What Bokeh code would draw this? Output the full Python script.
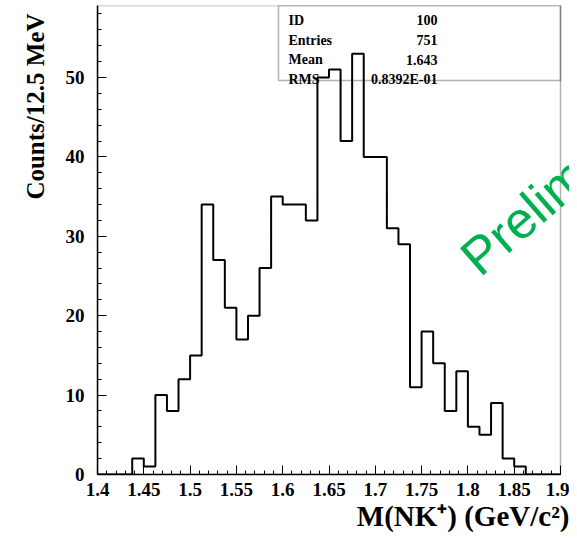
import numpy as np
from bokeh.plotting import figure
from bokeh.models import Label, BoxAnnotation, SingleIntervalTicker, Range1d, Title
from bokeh.embed import file_html
from bokeh.resources import INLINE

# ---- data ----
bin_lo = 1.4
bin_width = 0.0125
counts = [0, 0, 0, 2, 1, 10, 8, 12, 15, 34, 27, 21, 17, 20, 26, 35, 34, 34, 32,
          50, 51, 42, 53, 40, 40, 31, 29, 11, 18, 14, 8, 13, 6, 5, 9, 2, 1, 0, 0, 0]
stat_names = ["ID", "Entries", "Mean", "RMS"]
stat_values = ["100", "751", "1.643", "0.8392E-01"]
x_label = "M(NK\u207a) (GeV/c\u00b2)"
y_label = "Counts/12.5 MeV"
watermark = "Preliminary"

edges = bin_lo + bin_width * np.arange(len(counts) + 1)
step_y = counts + [counts[-1]]

W, H = 569, 532
fl, fr, ft, fb = 97, 560, 5, 474        # axes box in px
x_lo, x_hi = 1.4, 1.9
px_per_x = (fr - fl) / (x_hi - x_lo)
px_per_y = 7.94
y_end = (fb - ft) / px_per_y
x_end = x_hi + (W - fr) / px_per_x        # frame extends to right edge

p = figure(width=W, height=H, output_backend="svg", toolbar_location=None,
           x_range=Range1d(x_lo, x_end), y_range=Range1d(0, y_end),
           min_border_left=fl, min_border_right=0,
           min_border_top=ft, min_border_bottom=H - fb)
p.xgrid.visible = False
p.ygrid.visible = False
p.background_fill_color = "white"
p.border_fill_color = "white"
p.outline_line_color = None

def dx(px):
    return x_lo + (px - fl) / px_per_x

def dy(py):
    return (fb - py) / px_per_y

# axes box
p.add_layout(BoxAnnotation(left=x_lo, right=x_hi, bottom=0, top=y_end,
                           fill_alpha=0, line_color="black", line_width=1.5))

p.step(x=edges, y=step_y, mode="after", line_color="black", line_width=2)

for ax in (p.xaxis[0], p.yaxis[0]):
    ax.axis_line_width = 1.5
    ax.major_tick_in = 9
    ax.major_tick_out = 0
    ax.minor_tick_in = 4
    ax.minor_tick_out = 0
    ax.major_tick_line_width = 1
    ax.minor_tick_line_width = 1
    ax.major_label_text_font = "Liberation Serif"
    ax.major_label_text_font_style = "bold"
    ax.major_label_text_font_size = "19px"
    ax.major_label_text_color = "black"

p.xaxis.bounds = (x_lo, x_hi + 1e-9)
p.xaxis.ticker = SingleIntervalTicker(interval=0.05, num_minor_ticks=5)
p.yaxis.ticker = SingleIntervalTicker(interval=10, num_minor_ticks=5)
p.xaxis.major_label_standoff = 8
p.yaxis.major_label_standoff = 13

# stats box
p.add_layout(BoxAnnotation(left=dx(278), right=x_hi, bottom=dy(80), top=y_end,
                           fill_alpha=0, line_color="black", line_width=1.5))
row_base = [19.5, 39.5, 59, 78.5]
for name, val, by in zip(stat_names, stat_values, row_base):
    p.add_layout(Label(x=dx(288), y=dy(by), text=name, text_font="Liberation Serif",
                       text_font_style="bold", text_font_size="14px", text_color="black",
                       text_baseline="alphabetic", text_align="left"))
    p.add_layout(Label(x=dx(437), y=dy(by), text=val, text_font="Liberation Serif",
                       text_font_style="bold", text_font_size="14px", text_color="black",
                       text_baseline="alphabetic", text_align="right"))

# watermark
p.add_layout(Label(x=dx(468), y=dy(264), text=watermark, angle=np.deg2rad(41),
                   text_font="Liberation Sans", text_font_size="52px",
                   text_color="#00b050", text_baseline="alphabetic", text_align="left"))

# axis titles
p.add_layout(Title(text=y_label, align="right", text_font="Liberation Serif",
                   text_font_style="bold", text_font_size="25px", standoff=24,
                   vertical_align="top", offset=8, text_color="black"), "left")
p.add_layout(Title(text=x_label, align="right", text_font="Liberation Serif",
                   text_font_style="bold", text_font_size="29px", standoff=-2,
                   text_color="black"), "below")

open("out.html", "w").write(file_html(p, INLINE))
